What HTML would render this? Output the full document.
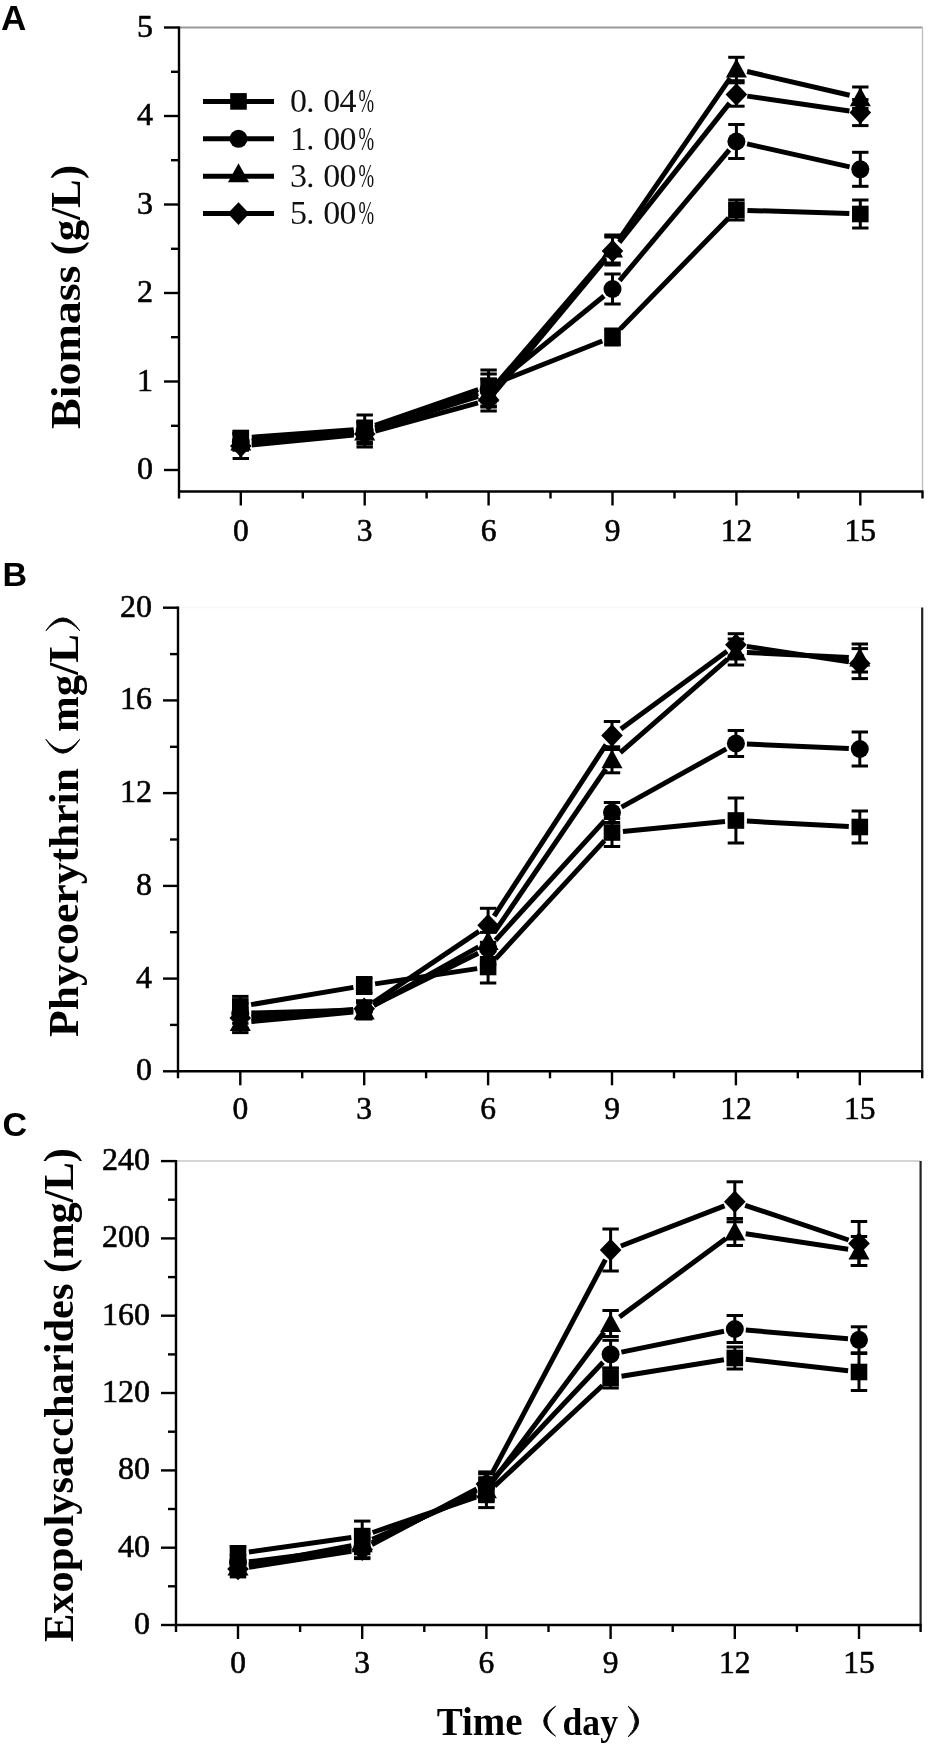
<!DOCTYPE html>
<html><head><meta charset="utf-8"><style>
html,body{margin:0;padding:0;background:#fff;width:936px;height:1758px;overflow:hidden}
svg{display:block;will-change:transform}
</style></head><body>
<svg width="936" height="1758" viewBox="0 0 936 1758">
<rect width="936" height="1758" fill="#fff"/>
<line x1="179" y1="27.5" x2="922.5" y2="27.5" stroke="#999" stroke-width="1.8"/>
<line x1="922.5" y1="27.5" x2="922.5" y2="491.5" stroke="#bbb" stroke-width="1.2"/>
<line x1="179" y1="26.5" x2="179" y2="498.5" stroke="#000" stroke-width="2.4"/>
<line x1="178" y1="491.5" x2="923.5" y2="491.5" stroke="#000" stroke-width="2.6"/>
<line x1="922.5" y1="491.5" x2="922.5" y2="498.5" stroke="#000" stroke-width="2.4"/>
<line x1="240.8" y1="491.5" x2="240.8" y2="505.5" stroke="#000" stroke-width="2.4"/>
<line x1="302.8" y1="491.5" x2="302.8" y2="498.5" stroke="#000" stroke-width="2.4"/>
<line x1="364.7" y1="491.5" x2="364.7" y2="505.5" stroke="#000" stroke-width="2.4"/>
<line x1="426.6" y1="491.5" x2="426.6" y2="498.5" stroke="#000" stroke-width="2.4"/>
<line x1="488.6" y1="491.5" x2="488.6" y2="505.5" stroke="#000" stroke-width="2.4"/>
<line x1="550.5" y1="491.5" x2="550.5" y2="498.5" stroke="#000" stroke-width="2.4"/>
<line x1="612.5" y1="491.5" x2="612.5" y2="505.5" stroke="#000" stroke-width="2.4"/>
<line x1="674.5" y1="491.5" x2="674.5" y2="498.5" stroke="#000" stroke-width="2.4"/>
<line x1="736.4" y1="491.5" x2="736.4" y2="505.5" stroke="#000" stroke-width="2.4"/>
<line x1="798.3" y1="491.5" x2="798.3" y2="498.5" stroke="#000" stroke-width="2.4"/>
<line x1="860.3" y1="491.5" x2="860.3" y2="505.5" stroke="#000" stroke-width="2.4"/>
<line x1="164" y1="470.0" x2="179" y2="470.0" stroke="#000" stroke-width="2.4"/>
<line x1="164" y1="381.5" x2="179" y2="381.5" stroke="#000" stroke-width="2.4"/>
<line x1="164" y1="293.0" x2="179" y2="293.0" stroke="#000" stroke-width="2.4"/>
<line x1="164" y1="204.5" x2="179" y2="204.5" stroke="#000" stroke-width="2.4"/>
<line x1="164" y1="116.0" x2="179" y2="116.0" stroke="#000" stroke-width="2.4"/>
<line x1="164" y1="27.5" x2="179" y2="27.5" stroke="#000" stroke-width="2.4"/>
<line x1="171" y1="425.8" x2="179" y2="425.8" stroke="#000" stroke-width="2.4"/>
<line x1="171" y1="337.2" x2="179" y2="337.2" stroke="#000" stroke-width="2.4"/>
<line x1="171" y1="248.8" x2="179" y2="248.8" stroke="#000" stroke-width="2.4"/>
<line x1="171" y1="160.2" x2="179" y2="160.2" stroke="#000" stroke-width="2.4"/>
<line x1="171" y1="71.8" x2="179" y2="71.8" stroke="#000" stroke-width="2.4"/>
<text x="153" y="479.0" text-anchor="end" font-family='"Liberation Serif", serif' font-size="32" stroke="#000" stroke-width="0.6">0</text>
<text x="153" y="390.5" text-anchor="end" font-family='"Liberation Serif", serif' font-size="32" stroke="#000" stroke-width="0.6">1</text>
<text x="153" y="302.0" text-anchor="end" font-family='"Liberation Serif", serif' font-size="32" stroke="#000" stroke-width="0.6">2</text>
<text x="153" y="213.5" text-anchor="end" font-family='"Liberation Serif", serif' font-size="32" stroke="#000" stroke-width="0.6">3</text>
<text x="153" y="125.0" text-anchor="end" font-family='"Liberation Serif", serif' font-size="32" stroke="#000" stroke-width="0.6">4</text>
<text x="153" y="36.5" text-anchor="end" font-family='"Liberation Serif", serif' font-size="32" stroke="#000" stroke-width="0.6">5</text>
<text x="240.8" y="540.5" text-anchor="middle" font-family='"Liberation Serif", serif' font-size="31.5" stroke="#000" stroke-width="0.6">0</text>
<text x="364.7" y="540.5" text-anchor="middle" font-family='"Liberation Serif", serif' font-size="31.5" stroke="#000" stroke-width="0.6">3</text>
<text x="488.6" y="540.5" text-anchor="middle" font-family='"Liberation Serif", serif' font-size="31.5" stroke="#000" stroke-width="0.6">6</text>
<text x="612.5" y="540.5" text-anchor="middle" font-family='"Liberation Serif", serif' font-size="31.5" stroke="#000" stroke-width="0.6">9</text>
<text x="736.4" y="540.5" text-anchor="middle" font-family='"Liberation Serif", serif' font-size="31.5" stroke="#000" stroke-width="0.6">12</text>
<text x="860.3" y="540.5" text-anchor="middle" font-family='"Liberation Serif", serif' font-size="31.5" stroke="#000" stroke-width="0.6">15</text>
<line x1="251.8" y1="437.2" x2="353.7" y2="429.8" stroke="#000" stroke-width="5"/>
<line x1="375.1" y1="425.4" x2="478.2" y2="389.6" stroke="#000" stroke-width="5"/>
<line x1="498.8" y1="382.0" x2="602.3" y2="341.0" stroke="#000" stroke-width="5"/>
<line x1="620.2" y1="329.1" x2="728.7" y2="217.9" stroke="#000" stroke-width="5"/>
<line x1="747.4" y1="210.4" x2="849.3" y2="213.6" stroke="#000" stroke-width="5"/>
<line x1="251.8" y1="441.0" x2="353.7" y2="432.0" stroke="#000" stroke-width="5"/>
<line x1="375.1" y1="427.5" x2="478.2" y2="393.5" stroke="#000" stroke-width="5"/>
<line x1="497.1" y1="383.0" x2="604.0" y2="296.0" stroke="#000" stroke-width="5"/>
<line x1="619.6" y1="280.6" x2="729.3" y2="149.9" stroke="#000" stroke-width="5"/>
<line x1="747.1" y1="143.9" x2="849.6" y2="166.9" stroke="#000" stroke-width="5"/>
<line x1="251.8" y1="441.1" x2="353.7" y2="432.9" stroke="#000" stroke-width="5"/>
<line x1="375.2" y1="428.7" x2="478.1" y2="396.3" stroke="#000" stroke-width="5"/>
<line x1="495.8" y1="384.7" x2="605.3" y2="257.3" stroke="#000" stroke-width="5"/>
<line x1="618.7" y1="239.9" x2="730.2" y2="78.1" stroke="#000" stroke-width="5"/>
<line x1="747.1" y1="71.5" x2="849.6" y2="95.2" stroke="#000" stroke-width="5"/>
<line x1="251.7" y1="444.9" x2="353.8" y2="435.1" stroke="#000" stroke-width="5"/>
<line x1="375.3" y1="431.1" x2="478.0" y2="402.9" stroke="#000" stroke-width="5"/>
<line x1="495.6" y1="391.5" x2="605.5" y2="259.5" stroke="#000" stroke-width="5"/>
<line x1="619.3" y1="242.4" x2="729.6" y2="103.1" stroke="#000" stroke-width="5"/>
<line x1="747.3" y1="96.1" x2="849.4" y2="111.0" stroke="#000" stroke-width="5"/>
<line x1="240.8" y1="432.0" x2="240.8" y2="444.0" stroke="#000" stroke-width="3"/>
<line x1="232.6" y1="432.0" x2="249.0" y2="432.0" stroke="#000" stroke-width="3"/>
<line x1="232.6" y1="444.0" x2="249.0" y2="444.0" stroke="#000" stroke-width="3"/>
<rect x="232.5" y="429.7" width="16.6" height="16.6"/>
<line x1="364.7" y1="421.0" x2="364.7" y2="437.0" stroke="#000" stroke-width="3"/>
<line x1="356.5" y1="421.0" x2="372.9" y2="421.0" stroke="#000" stroke-width="3"/>
<line x1="356.5" y1="437.0" x2="372.9" y2="437.0" stroke="#000" stroke-width="3"/>
<rect x="356.4" y="420.7" width="16.6" height="16.6"/>
<line x1="488.6" y1="370.0" x2="488.6" y2="402.0" stroke="#000" stroke-width="3"/>
<line x1="480.4" y1="370.0" x2="496.8" y2="370.0" stroke="#000" stroke-width="3"/>
<line x1="480.4" y1="402.0" x2="496.8" y2="402.0" stroke="#000" stroke-width="3"/>
<rect x="480.3" y="377.7" width="16.6" height="16.6"/>
<line x1="612.5" y1="329.0" x2="612.5" y2="345.0" stroke="#000" stroke-width="3"/>
<line x1="604.3" y1="329.0" x2="620.7" y2="329.0" stroke="#000" stroke-width="3"/>
<line x1="604.3" y1="345.0" x2="620.7" y2="345.0" stroke="#000" stroke-width="3"/>
<rect x="604.2" y="328.7" width="16.6" height="16.6"/>
<line x1="736.4" y1="200.0" x2="736.4" y2="220.0" stroke="#000" stroke-width="3"/>
<line x1="728.2" y1="200.0" x2="744.6" y2="200.0" stroke="#000" stroke-width="3"/>
<line x1="728.2" y1="220.0" x2="744.6" y2="220.0" stroke="#000" stroke-width="3"/>
<rect x="728.1" y="201.7" width="16.6" height="16.6"/>
<line x1="860.3" y1="200.0" x2="860.3" y2="228.0" stroke="#000" stroke-width="3"/>
<line x1="852.1" y1="200.0" x2="868.5" y2="200.0" stroke="#000" stroke-width="3"/>
<line x1="852.1" y1="228.0" x2="868.5" y2="228.0" stroke="#000" stroke-width="3"/>
<rect x="852.0" y="205.7" width="16.6" height="16.6"/>
<line x1="240.8" y1="434.0" x2="240.8" y2="450.0" stroke="#000" stroke-width="3"/>
<line x1="232.6" y1="434.0" x2="249.0" y2="434.0" stroke="#000" stroke-width="3"/>
<line x1="232.6" y1="450.0" x2="249.0" y2="450.0" stroke="#000" stroke-width="3"/>
<circle cx="240.8" cy="442.0" r="9.0"/>
<line x1="364.7" y1="415.0" x2="364.7" y2="447.0" stroke="#000" stroke-width="3"/>
<line x1="356.5" y1="415.0" x2="372.9" y2="415.0" stroke="#000" stroke-width="3"/>
<line x1="356.5" y1="447.0" x2="372.9" y2="447.0" stroke="#000" stroke-width="3"/>
<circle cx="364.7" cy="431.0" r="9.0"/>
<line x1="488.6" y1="374.0" x2="488.6" y2="406.0" stroke="#000" stroke-width="3"/>
<line x1="480.4" y1="374.0" x2="496.8" y2="374.0" stroke="#000" stroke-width="3"/>
<line x1="480.4" y1="406.0" x2="496.8" y2="406.0" stroke="#000" stroke-width="3"/>
<circle cx="488.6" cy="390.0" r="9.0"/>
<line x1="612.5" y1="274.0" x2="612.5" y2="304.0" stroke="#000" stroke-width="3"/>
<line x1="604.3" y1="274.0" x2="620.7" y2="274.0" stroke="#000" stroke-width="3"/>
<line x1="604.3" y1="304.0" x2="620.7" y2="304.0" stroke="#000" stroke-width="3"/>
<circle cx="612.5" cy="289.0" r="9.0"/>
<line x1="736.4" y1="124.5" x2="736.4" y2="158.5" stroke="#000" stroke-width="3"/>
<line x1="728.2" y1="124.5" x2="744.6" y2="124.5" stroke="#000" stroke-width="3"/>
<line x1="728.2" y1="158.5" x2="744.6" y2="158.5" stroke="#000" stroke-width="3"/>
<circle cx="736.4" cy="141.5" r="9.0"/>
<line x1="860.3" y1="152.3" x2="860.3" y2="186.3" stroke="#000" stroke-width="3"/>
<line x1="852.1" y1="152.3" x2="868.5" y2="152.3" stroke="#000" stroke-width="3"/>
<line x1="852.1" y1="186.3" x2="868.5" y2="186.3" stroke="#000" stroke-width="3"/>
<circle cx="860.3" cy="169.3" r="9.0"/>
<line x1="240.8" y1="434.0" x2="240.8" y2="450.0" stroke="#000" stroke-width="3"/>
<line x1="232.6" y1="434.0" x2="249.0" y2="434.0" stroke="#000" stroke-width="3"/>
<line x1="232.6" y1="450.0" x2="249.0" y2="450.0" stroke="#000" stroke-width="3"/>
<path d="M240.8,431.5 L251.3,450.5 L230.3,450.5 Z"/>
<line x1="364.7" y1="422.0" x2="364.7" y2="442.0" stroke="#000" stroke-width="3"/>
<line x1="356.5" y1="422.0" x2="372.9" y2="422.0" stroke="#000" stroke-width="3"/>
<line x1="356.5" y1="442.0" x2="372.9" y2="442.0" stroke="#000" stroke-width="3"/>
<path d="M364.7,421.5 L375.2,440.5 L354.2,440.5 Z"/>
<line x1="488.6" y1="379.0" x2="488.6" y2="407.0" stroke="#000" stroke-width="3"/>
<line x1="480.4" y1="379.0" x2="496.8" y2="379.0" stroke="#000" stroke-width="3"/>
<line x1="480.4" y1="407.0" x2="496.8" y2="407.0" stroke="#000" stroke-width="3"/>
<path d="M488.6,382.5 L499.1,401.5 L478.1,401.5 Z"/>
<line x1="612.5" y1="235.0" x2="612.5" y2="263.0" stroke="#000" stroke-width="3"/>
<line x1="604.3" y1="235.0" x2="620.7" y2="235.0" stroke="#000" stroke-width="3"/>
<line x1="604.3" y1="263.0" x2="620.7" y2="263.0" stroke="#000" stroke-width="3"/>
<path d="M612.5,238.5 L623.0,257.5 L602.0,257.5 Z"/>
<line x1="736.4" y1="57.3" x2="736.4" y2="80.7" stroke="#000" stroke-width="3"/>
<line x1="728.2" y1="57.3" x2="744.6" y2="57.3" stroke="#000" stroke-width="3"/>
<line x1="728.2" y1="80.7" x2="744.6" y2="80.7" stroke="#000" stroke-width="3"/>
<path d="M736.4,58.5 L746.9,77.5 L725.9,77.5 Z"/>
<line x1="860.3" y1="87.0" x2="860.3" y2="108.4" stroke="#000" stroke-width="3"/>
<line x1="852.1" y1="87.0" x2="868.5" y2="87.0" stroke="#000" stroke-width="3"/>
<line x1="852.1" y1="108.4" x2="868.5" y2="108.4" stroke="#000" stroke-width="3"/>
<path d="M860.3,87.2 L870.8,106.2 L849.8,106.2 Z"/>
<line x1="240.8" y1="433.5" x2="240.8" y2="458.5" stroke="#000" stroke-width="3"/>
<line x1="232.6" y1="433.5" x2="249.0" y2="433.5" stroke="#000" stroke-width="3"/>
<line x1="232.6" y1="458.5" x2="249.0" y2="458.5" stroke="#000" stroke-width="3"/>
<path d="M240.8,434.7 L251.6,446.0 L240.8,457.3 L230.0,446.0 Z"/>
<line x1="364.7" y1="424.0" x2="364.7" y2="444.0" stroke="#000" stroke-width="3"/>
<line x1="356.5" y1="424.0" x2="372.9" y2="424.0" stroke="#000" stroke-width="3"/>
<line x1="356.5" y1="444.0" x2="372.9" y2="444.0" stroke="#000" stroke-width="3"/>
<path d="M364.7,422.7 L375.5,434.0 L364.7,445.3 L353.9,434.0 Z"/>
<line x1="488.6" y1="389.0" x2="488.6" y2="411.0" stroke="#000" stroke-width="3"/>
<line x1="480.4" y1="389.0" x2="496.8" y2="389.0" stroke="#000" stroke-width="3"/>
<line x1="480.4" y1="411.0" x2="496.8" y2="411.0" stroke="#000" stroke-width="3"/>
<path d="M488.6,388.7 L499.4,400.0 L488.6,411.3 L477.8,400.0 Z"/>
<line x1="612.5" y1="237.0" x2="612.5" y2="265.0" stroke="#000" stroke-width="3"/>
<line x1="604.3" y1="237.0" x2="620.7" y2="237.0" stroke="#000" stroke-width="3"/>
<line x1="604.3" y1="265.0" x2="620.7" y2="265.0" stroke="#000" stroke-width="3"/>
<path d="M612.5,239.7 L623.3,251.0 L612.5,262.3 L601.7,251.0 Z"/>
<line x1="736.4" y1="82.8" x2="736.4" y2="106.2" stroke="#000" stroke-width="3"/>
<line x1="728.2" y1="82.8" x2="744.6" y2="82.8" stroke="#000" stroke-width="3"/>
<line x1="728.2" y1="106.2" x2="744.6" y2="106.2" stroke="#000" stroke-width="3"/>
<path d="M736.4,83.2 L747.2,94.5 L736.4,105.8 L725.6,94.5 Z"/>
<line x1="860.3" y1="99.6" x2="860.3" y2="125.6" stroke="#000" stroke-width="3"/>
<line x1="852.1" y1="99.6" x2="868.5" y2="99.6" stroke="#000" stroke-width="3"/>
<line x1="852.1" y1="125.6" x2="868.5" y2="125.6" stroke="#000" stroke-width="3"/>
<path d="M860.3,101.3 L871.1,112.6 L860.3,123.9 L849.5,112.6 Z"/>
<line x1="203" y1="101.4" x2="274" y2="101.4" stroke="#000" stroke-width="5"/>
<rect x="230.2" y="93.1" width="16.6" height="16.6"/>
<text x="298.5" y="112.2" text-anchor="middle" font-family='"Liberation Serif", serif' font-size="34" fill="#111">0</text>
<circle cx="310.3" cy="110.2" r="1.9" fill="#111"/>
<text x="331.8" y="112.2" text-anchor="middle" font-family='"Liberation Serif", serif' font-size="34" fill="#111">0</text>
<text x="348.0" y="112.2" text-anchor="middle" font-family='"Liberation Serif", serif' font-size="34" fill="#111">4</text>
<text x="358.5" y="112.2" font-family='"Liberation Serif", serif' font-size="34" textLength="15.6" lengthAdjust="spacingAndGlyphs" fill="#111">%</text>
<line x1="203" y1="138.8" x2="274" y2="138.8" stroke="#000" stroke-width="5"/>
<circle cx="238.5" cy="138.8" r="9.0"/>
<text x="298.5" y="149.7" text-anchor="middle" font-family='"Liberation Serif", serif' font-size="34" fill="#111">1</text>
<circle cx="310.3" cy="147.7" r="1.9" fill="#111"/>
<text x="331.8" y="149.7" text-anchor="middle" font-family='"Liberation Serif", serif' font-size="34" fill="#111">0</text>
<text x="348.0" y="149.7" text-anchor="middle" font-family='"Liberation Serif", serif' font-size="34" fill="#111">0</text>
<text x="358.5" y="149.7" font-family='"Liberation Serif", serif' font-size="34" textLength="15.6" lengthAdjust="spacingAndGlyphs" fill="#111">%</text>
<line x1="203" y1="176.2" x2="274" y2="176.2" stroke="#000" stroke-width="5"/>
<path d="M238.5,163.2 L249.0,182.2 L228.0,182.2 Z"/>
<text x="298.5" y="187.4" text-anchor="middle" font-family='"Liberation Serif", serif' font-size="34" fill="#111">3</text>
<circle cx="310.3" cy="185.4" r="1.9" fill="#111"/>
<text x="331.8" y="187.4" text-anchor="middle" font-family='"Liberation Serif", serif' font-size="34" fill="#111">0</text>
<text x="348.0" y="187.4" text-anchor="middle" font-family='"Liberation Serif", serif' font-size="34" fill="#111">0</text>
<text x="358.5" y="187.4" font-family='"Liberation Serif", serif' font-size="34" textLength="15.6" lengthAdjust="spacingAndGlyphs" fill="#111">%</text>
<line x1="203" y1="213.6" x2="274" y2="213.6" stroke="#000" stroke-width="5"/>
<path d="M238.5,202.3 L249.3,213.6 L238.5,224.9 L227.7,213.6 Z"/>
<text x="298.5" y="224.0" text-anchor="middle" font-family='"Liberation Serif", serif' font-size="34" fill="#111">5</text>
<circle cx="310.3" cy="222.0" r="1.9" fill="#111"/>
<text x="331.8" y="224.0" text-anchor="middle" font-family='"Liberation Serif", serif' font-size="34" fill="#111">0</text>
<text x="348.0" y="224.0" text-anchor="middle" font-family='"Liberation Serif", serif' font-size="34" fill="#111">0</text>
<text x="358.5" y="224.0" font-family='"Liberation Serif", serif' font-size="34" textLength="15.6" lengthAdjust="spacingAndGlyphs" fill="#111">%</text>
<line x1="178" y1="607.5" x2="922.2" y2="607.5" stroke="#f7f7f7" stroke-width="1.5"/>
<line x1="922.2" y1="607.5" x2="922.2" y2="1071.3" stroke="#222" stroke-width="2.2"/>
<line x1="178" y1="606.5" x2="178" y2="1078.3" stroke="#000" stroke-width="2.4"/>
<line x1="177" y1="1071.3" x2="923.2" y2="1071.3" stroke="#000" stroke-width="2.6"/>
<line x1="922.2" y1="1071.3" x2="922.2" y2="1078.3" stroke="#000" stroke-width="2.4"/>
<line x1="240.3" y1="1071.3" x2="240.3" y2="1085.3" stroke="#000" stroke-width="2.4"/>
<line x1="302.2" y1="1071.3" x2="302.2" y2="1078.3" stroke="#000" stroke-width="2.4"/>
<line x1="364.2" y1="1071.3" x2="364.2" y2="1085.3" stroke="#000" stroke-width="2.4"/>
<line x1="426.1" y1="1071.3" x2="426.1" y2="1078.3" stroke="#000" stroke-width="2.4"/>
<line x1="488.1" y1="1071.3" x2="488.1" y2="1085.3" stroke="#000" stroke-width="2.4"/>
<line x1="550.0" y1="1071.3" x2="550.0" y2="1078.3" stroke="#000" stroke-width="2.4"/>
<line x1="612.0" y1="1071.3" x2="612.0" y2="1085.3" stroke="#000" stroke-width="2.4"/>
<line x1="674.0" y1="1071.3" x2="674.0" y2="1078.3" stroke="#000" stroke-width="2.4"/>
<line x1="735.9" y1="1071.3" x2="735.9" y2="1085.3" stroke="#000" stroke-width="2.4"/>
<line x1="797.8" y1="1071.3" x2="797.8" y2="1078.3" stroke="#000" stroke-width="2.4"/>
<line x1="859.8" y1="1071.3" x2="859.8" y2="1085.3" stroke="#000" stroke-width="2.4"/>
<line x1="163" y1="1071.3" x2="178" y2="1071.3" stroke="#000" stroke-width="2.4"/>
<line x1="163" y1="978.6" x2="178" y2="978.6" stroke="#000" stroke-width="2.4"/>
<line x1="163" y1="885.9" x2="178" y2="885.9" stroke="#000" stroke-width="2.4"/>
<line x1="163" y1="793.1" x2="178" y2="793.1" stroke="#000" stroke-width="2.4"/>
<line x1="163" y1="700.4" x2="178" y2="700.4" stroke="#000" stroke-width="2.4"/>
<line x1="163" y1="607.7" x2="178" y2="607.7" stroke="#000" stroke-width="2.4"/>
<line x1="170" y1="1024.9" x2="178" y2="1024.9" stroke="#000" stroke-width="2.4"/>
<line x1="170" y1="932.2" x2="178" y2="932.2" stroke="#000" stroke-width="2.4"/>
<line x1="170" y1="839.5" x2="178" y2="839.5" stroke="#000" stroke-width="2.4"/>
<line x1="170" y1="746.8" x2="178" y2="746.8" stroke="#000" stroke-width="2.4"/>
<line x1="170" y1="654.1" x2="178" y2="654.1" stroke="#000" stroke-width="2.4"/>
<text x="152" y="1080.3" text-anchor="end" font-family='"Liberation Serif", serif' font-size="32" stroke="#000" stroke-width="0.6">0</text>
<text x="152" y="987.6" text-anchor="end" font-family='"Liberation Serif", serif' font-size="32" stroke="#000" stroke-width="0.6">4</text>
<text x="152" y="894.9" text-anchor="end" font-family='"Liberation Serif", serif' font-size="32" stroke="#000" stroke-width="0.6">8</text>
<text x="152" y="802.1" text-anchor="end" font-family='"Liberation Serif", serif' font-size="32" stroke="#000" stroke-width="0.6">12</text>
<text x="152" y="709.4" text-anchor="end" font-family='"Liberation Serif", serif' font-size="32" stroke="#000" stroke-width="0.6">16</text>
<text x="152" y="616.7" text-anchor="end" font-family='"Liberation Serif", serif' font-size="32" stroke="#000" stroke-width="0.6">20</text>
<text x="240.3" y="1118.7" text-anchor="middle" font-family='"Liberation Serif", serif' font-size="31.5" stroke="#000" stroke-width="0.6">0</text>
<text x="364.2" y="1118.7" text-anchor="middle" font-family='"Liberation Serif", serif' font-size="31.5" stroke="#000" stroke-width="0.6">3</text>
<text x="488.1" y="1118.7" text-anchor="middle" font-family='"Liberation Serif", serif' font-size="31.5" stroke="#000" stroke-width="0.6">6</text>
<text x="612.0" y="1118.7" text-anchor="middle" font-family='"Liberation Serif", serif' font-size="31.5" stroke="#000" stroke-width="0.6">9</text>
<text x="735.9" y="1118.7" text-anchor="middle" font-family='"Liberation Serif", serif' font-size="31.5" stroke="#000" stroke-width="0.6">12</text>
<text x="859.8" y="1118.7" text-anchor="middle" font-family='"Liberation Serif", serif' font-size="31.5" stroke="#000" stroke-width="0.6">15</text>
<line x1="251.1" y1="1004.6" x2="353.4" y2="987.4" stroke="#000" stroke-width="5"/>
<line x1="375.1" y1="983.9" x2="477.2" y2="968.6" stroke="#000" stroke-width="5"/>
<line x1="495.6" y1="958.9" x2="604.5" y2="840.6" stroke="#000" stroke-width="5"/>
<line x1="622.9" y1="831.4" x2="725.0" y2="821.6" stroke="#000" stroke-width="5"/>
<line x1="746.9" y1="821.1" x2="848.8" y2="826.4" stroke="#000" stroke-width="5"/>
<line x1="251.3" y1="1013.0" x2="353.2" y2="1010.2" stroke="#000" stroke-width="5"/>
<line x1="374.1" y1="1005.0" x2="478.2" y2="953.3" stroke="#000" stroke-width="5"/>
<line x1="495.5" y1="940.3" x2="604.6" y2="820.6" stroke="#000" stroke-width="5"/>
<line x1="621.6" y1="807.1" x2="726.3" y2="748.9" stroke="#000" stroke-width="5"/>
<line x1="746.9" y1="744.0" x2="848.8" y2="748.5" stroke="#000" stroke-width="5"/>
<line x1="251.3" y1="1021.6" x2="353.2" y2="1012.1" stroke="#000" stroke-width="5"/>
<line x1="373.8" y1="1005.6" x2="478.5" y2="946.9" stroke="#000" stroke-width="5"/>
<line x1="494.3" y1="932.4" x2="605.8" y2="768.9" stroke="#000" stroke-width="5"/>
<line x1="620.3" y1="752.6" x2="727.6" y2="659.2" stroke="#000" stroke-width="5"/>
<line x1="746.9" y1="652.5" x2="848.8" y2="657.5" stroke="#000" stroke-width="5"/>
<line x1="251.3" y1="1017.2" x2="353.2" y2="1009.5" stroke="#000" stroke-width="5"/>
<line x1="373.3" y1="1002.6" x2="479.0" y2="931.4" stroke="#000" stroke-width="5"/>
<line x1="494.1" y1="916.1" x2="606.0" y2="744.7" stroke="#000" stroke-width="5"/>
<line x1="620.9" y1="729.0" x2="727.0" y2="651.2" stroke="#000" stroke-width="5"/>
<line x1="746.8" y1="646.4" x2="848.9" y2="661.9" stroke="#000" stroke-width="5"/>
<line x1="240.3" y1="996.4" x2="240.3" y2="1016.4" stroke="#000" stroke-width="3"/>
<line x1="232.1" y1="996.4" x2="248.5" y2="996.4" stroke="#000" stroke-width="3"/>
<line x1="232.1" y1="1016.4" x2="248.5" y2="1016.4" stroke="#000" stroke-width="3"/>
<rect x="232.0" y="998.1" width="16.6" height="16.6"/>
<line x1="364.2" y1="977.5" x2="364.2" y2="993.5" stroke="#000" stroke-width="3"/>
<line x1="356.0" y1="977.5" x2="372.4" y2="977.5" stroke="#000" stroke-width="3"/>
<line x1="356.0" y1="993.5" x2="372.4" y2="993.5" stroke="#000" stroke-width="3"/>
<rect x="355.9" y="977.2" width="16.6" height="16.6"/>
<line x1="488.1" y1="951.0" x2="488.1" y2="983.0" stroke="#000" stroke-width="3"/>
<line x1="479.9" y1="951.0" x2="496.3" y2="951.0" stroke="#000" stroke-width="3"/>
<line x1="479.9" y1="983.0" x2="496.3" y2="983.0" stroke="#000" stroke-width="3"/>
<rect x="479.8" y="958.7" width="16.6" height="16.6"/>
<line x1="612.0" y1="818.5" x2="612.0" y2="846.5" stroke="#000" stroke-width="3"/>
<line x1="603.8" y1="818.5" x2="620.2" y2="818.5" stroke="#000" stroke-width="3"/>
<line x1="603.8" y1="846.5" x2="620.2" y2="846.5" stroke="#000" stroke-width="3"/>
<rect x="603.7" y="824.2" width="16.6" height="16.6"/>
<line x1="735.9" y1="798.0" x2="735.9" y2="843.0" stroke="#000" stroke-width="3"/>
<line x1="727.7" y1="798.0" x2="744.1" y2="798.0" stroke="#000" stroke-width="3"/>
<line x1="727.7" y1="843.0" x2="744.1" y2="843.0" stroke="#000" stroke-width="3"/>
<rect x="727.6" y="812.2" width="16.6" height="16.6"/>
<line x1="859.8" y1="811.0" x2="859.8" y2="843.0" stroke="#000" stroke-width="3"/>
<line x1="851.6" y1="811.0" x2="868.0" y2="811.0" stroke="#000" stroke-width="3"/>
<line x1="851.6" y1="843.0" x2="868.0" y2="843.0" stroke="#000" stroke-width="3"/>
<rect x="851.5" y="818.7" width="16.6" height="16.6"/>
<line x1="240.3" y1="1003.3" x2="240.3" y2="1023.3" stroke="#000" stroke-width="3"/>
<line x1="232.1" y1="1003.3" x2="248.5" y2="1003.3" stroke="#000" stroke-width="3"/>
<line x1="232.1" y1="1023.3" x2="248.5" y2="1023.3" stroke="#000" stroke-width="3"/>
<circle cx="240.3" cy="1013.3" r="9.0"/>
<line x1="364.2" y1="1001.9" x2="364.2" y2="1017.9" stroke="#000" stroke-width="3"/>
<line x1="356.0" y1="1001.9" x2="372.4" y2="1001.9" stroke="#000" stroke-width="3"/>
<line x1="356.0" y1="1017.9" x2="372.4" y2="1017.9" stroke="#000" stroke-width="3"/>
<circle cx="364.2" cy="1009.9" r="9.0"/>
<line x1="488.1" y1="932.4" x2="488.1" y2="964.4" stroke="#000" stroke-width="3"/>
<line x1="479.9" y1="932.4" x2="496.3" y2="932.4" stroke="#000" stroke-width="3"/>
<line x1="479.9" y1="964.4" x2="496.3" y2="964.4" stroke="#000" stroke-width="3"/>
<circle cx="488.1" cy="948.4" r="9.0"/>
<line x1="612.0" y1="802.5" x2="612.0" y2="822.5" stroke="#000" stroke-width="3"/>
<line x1="603.8" y1="802.5" x2="620.2" y2="802.5" stroke="#000" stroke-width="3"/>
<line x1="603.8" y1="822.5" x2="620.2" y2="822.5" stroke="#000" stroke-width="3"/>
<circle cx="612.0" cy="812.5" r="9.0"/>
<line x1="735.9" y1="730.5" x2="735.9" y2="756.5" stroke="#000" stroke-width="3"/>
<line x1="727.7" y1="730.5" x2="744.1" y2="730.5" stroke="#000" stroke-width="3"/>
<line x1="727.7" y1="756.5" x2="744.1" y2="756.5" stroke="#000" stroke-width="3"/>
<circle cx="735.9" cy="743.5" r="9.0"/>
<line x1="859.8" y1="732.0" x2="859.8" y2="766.0" stroke="#000" stroke-width="3"/>
<line x1="851.6" y1="732.0" x2="868.0" y2="732.0" stroke="#000" stroke-width="3"/>
<line x1="851.6" y1="766.0" x2="868.0" y2="766.0" stroke="#000" stroke-width="3"/>
<circle cx="859.8" cy="749.0" r="9.0"/>
<line x1="240.3" y1="1012.6" x2="240.3" y2="1032.6" stroke="#000" stroke-width="3"/>
<line x1="232.1" y1="1012.6" x2="248.5" y2="1012.6" stroke="#000" stroke-width="3"/>
<line x1="232.1" y1="1032.6" x2="248.5" y2="1032.6" stroke="#000" stroke-width="3"/>
<path d="M240.3,1012.1 L250.8,1031.1 L229.8,1031.1 Z"/>
<line x1="364.2" y1="1003.0" x2="364.2" y2="1019.0" stroke="#000" stroke-width="3"/>
<line x1="356.0" y1="1003.0" x2="372.4" y2="1003.0" stroke="#000" stroke-width="3"/>
<line x1="356.0" y1="1019.0" x2="372.4" y2="1019.0" stroke="#000" stroke-width="3"/>
<path d="M364.2,1000.5 L374.7,1019.5 L353.7,1019.5 Z"/>
<line x1="488.1" y1="925.5" x2="488.1" y2="957.5" stroke="#000" stroke-width="3"/>
<line x1="479.9" y1="925.5" x2="496.3" y2="925.5" stroke="#000" stroke-width="3"/>
<line x1="479.9" y1="957.5" x2="496.3" y2="957.5" stroke="#000" stroke-width="3"/>
<path d="M488.1,931.0 L498.6,950.0 L477.6,950.0 Z"/>
<line x1="612.0" y1="746.8" x2="612.0" y2="772.8" stroke="#000" stroke-width="3"/>
<line x1="603.8" y1="746.8" x2="620.2" y2="746.8" stroke="#000" stroke-width="3"/>
<line x1="603.8" y1="772.8" x2="620.2" y2="772.8" stroke="#000" stroke-width="3"/>
<path d="M612.0,749.3 L622.5,768.3 L601.5,768.3 Z"/>
<line x1="735.9" y1="639.0" x2="735.9" y2="665.0" stroke="#000" stroke-width="3"/>
<line x1="727.7" y1="639.0" x2="744.1" y2="639.0" stroke="#000" stroke-width="3"/>
<line x1="727.7" y1="665.0" x2="744.1" y2="665.0" stroke="#000" stroke-width="3"/>
<path d="M735.9,641.5 L746.4,660.5 L725.4,660.5 Z"/>
<line x1="859.8" y1="644.0" x2="859.8" y2="672.0" stroke="#000" stroke-width="3"/>
<line x1="851.6" y1="644.0" x2="868.0" y2="644.0" stroke="#000" stroke-width="3"/>
<line x1="851.6" y1="672.0" x2="868.0" y2="672.0" stroke="#000" stroke-width="3"/>
<path d="M859.8,647.5 L870.3,666.5 L849.3,666.5 Z"/>
<line x1="240.3" y1="1008.0" x2="240.3" y2="1028.0" stroke="#000" stroke-width="3"/>
<line x1="232.1" y1="1008.0" x2="248.5" y2="1008.0" stroke="#000" stroke-width="3"/>
<line x1="232.1" y1="1028.0" x2="248.5" y2="1028.0" stroke="#000" stroke-width="3"/>
<path d="M240.3,1006.7 L251.1,1018.0 L240.3,1029.3 L229.5,1018.0 Z"/>
<line x1="364.2" y1="1000.7" x2="364.2" y2="1016.7" stroke="#000" stroke-width="3"/>
<line x1="356.0" y1="1000.7" x2="372.4" y2="1000.7" stroke="#000" stroke-width="3"/>
<line x1="356.0" y1="1016.7" x2="372.4" y2="1016.7" stroke="#000" stroke-width="3"/>
<path d="M364.2,997.4 L375.0,1008.7 L364.2,1020.0 L353.4,1008.7 Z"/>
<line x1="488.1" y1="908.3" x2="488.1" y2="942.3" stroke="#000" stroke-width="3"/>
<line x1="479.9" y1="908.3" x2="496.3" y2="908.3" stroke="#000" stroke-width="3"/>
<line x1="479.9" y1="942.3" x2="496.3" y2="942.3" stroke="#000" stroke-width="3"/>
<path d="M488.1,914.0 L498.9,925.3 L488.1,936.6 L477.3,925.3 Z"/>
<line x1="612.0" y1="721.5" x2="612.0" y2="749.5" stroke="#000" stroke-width="3"/>
<line x1="603.8" y1="721.5" x2="620.2" y2="721.5" stroke="#000" stroke-width="3"/>
<line x1="603.8" y1="749.5" x2="620.2" y2="749.5" stroke="#000" stroke-width="3"/>
<path d="M612.0,724.2 L622.8,735.5 L612.0,746.8 L601.2,735.5 Z"/>
<line x1="735.9" y1="633.7" x2="735.9" y2="655.7" stroke="#000" stroke-width="3"/>
<line x1="727.7" y1="633.7" x2="744.1" y2="633.7" stroke="#000" stroke-width="3"/>
<line x1="727.7" y1="655.7" x2="744.1" y2="655.7" stroke="#000" stroke-width="3"/>
<path d="M735.9,633.4 L746.7,644.7 L735.9,656.0 L725.1,644.7 Z"/>
<line x1="859.8" y1="648.6" x2="859.8" y2="678.6" stroke="#000" stroke-width="3"/>
<line x1="851.6" y1="648.6" x2="868.0" y2="648.6" stroke="#000" stroke-width="3"/>
<line x1="851.6" y1="678.6" x2="868.0" y2="678.6" stroke="#000" stroke-width="3"/>
<path d="M859.8,652.3 L870.6,663.6 L859.8,674.9 L849.0,663.6 Z"/>
<line x1="176" y1="1161" x2="920.6" y2="1161" stroke="#c8c8c8" stroke-width="1.5"/>
<line x1="920.6" y1="1161" x2="920.6" y2="1625" stroke="#222" stroke-width="2.2"/>
<line x1="176" y1="1160" x2="176" y2="1632" stroke="#000" stroke-width="2.4"/>
<line x1="175" y1="1625" x2="921.6" y2="1625" stroke="#000" stroke-width="2.6"/>
<line x1="920.6" y1="1625" x2="920.6" y2="1632" stroke="#000" stroke-width="2.4"/>
<line x1="238.0" y1="1625" x2="238.0" y2="1639" stroke="#000" stroke-width="2.4"/>
<line x1="300.1" y1="1625" x2="300.1" y2="1632" stroke="#000" stroke-width="2.4"/>
<line x1="362.2" y1="1625" x2="362.2" y2="1639" stroke="#000" stroke-width="2.4"/>
<line x1="424.3" y1="1625" x2="424.3" y2="1632" stroke="#000" stroke-width="2.4"/>
<line x1="486.4" y1="1625" x2="486.4" y2="1639" stroke="#000" stroke-width="2.4"/>
<line x1="548.5" y1="1625" x2="548.5" y2="1632" stroke="#000" stroke-width="2.4"/>
<line x1="610.6" y1="1625" x2="610.6" y2="1639" stroke="#000" stroke-width="2.4"/>
<line x1="672.7" y1="1625" x2="672.7" y2="1632" stroke="#000" stroke-width="2.4"/>
<line x1="734.8" y1="1625" x2="734.8" y2="1639" stroke="#000" stroke-width="2.4"/>
<line x1="796.9" y1="1625" x2="796.9" y2="1632" stroke="#000" stroke-width="2.4"/>
<line x1="859.0" y1="1625" x2="859.0" y2="1639" stroke="#000" stroke-width="2.4"/>
<line x1="161" y1="1625.0" x2="176" y2="1625.0" stroke="#000" stroke-width="2.4"/>
<line x1="161" y1="1547.7" x2="176" y2="1547.7" stroke="#000" stroke-width="2.4"/>
<line x1="161" y1="1470.4" x2="176" y2="1470.4" stroke="#000" stroke-width="2.4"/>
<line x1="161" y1="1393.0" x2="176" y2="1393.0" stroke="#000" stroke-width="2.4"/>
<line x1="161" y1="1315.7" x2="176" y2="1315.7" stroke="#000" stroke-width="2.4"/>
<line x1="161" y1="1238.4" x2="176" y2="1238.4" stroke="#000" stroke-width="2.4"/>
<line x1="161" y1="1161.1" x2="176" y2="1161.1" stroke="#000" stroke-width="2.4"/>
<line x1="168" y1="1586.3" x2="176" y2="1586.3" stroke="#000" stroke-width="2.4"/>
<line x1="168" y1="1509.0" x2="176" y2="1509.0" stroke="#000" stroke-width="2.4"/>
<line x1="168" y1="1431.7" x2="176" y2="1431.7" stroke="#000" stroke-width="2.4"/>
<line x1="168" y1="1354.4" x2="176" y2="1354.4" stroke="#000" stroke-width="2.4"/>
<line x1="168" y1="1277.1" x2="176" y2="1277.1" stroke="#000" stroke-width="2.4"/>
<line x1="168" y1="1199.7" x2="176" y2="1199.7" stroke="#000" stroke-width="2.4"/>
<text x="150" y="1634.0" text-anchor="end" font-family='"Liberation Serif", serif' font-size="32" stroke="#000" stroke-width="0.6">0</text>
<text x="150" y="1556.7" text-anchor="end" font-family='"Liberation Serif", serif' font-size="32" stroke="#000" stroke-width="0.6">40</text>
<text x="150" y="1479.4" text-anchor="end" font-family='"Liberation Serif", serif' font-size="32" stroke="#000" stroke-width="0.6">80</text>
<text x="150" y="1402.0" text-anchor="end" font-family='"Liberation Serif", serif' font-size="32" stroke="#000" stroke-width="0.6">120</text>
<text x="150" y="1324.7" text-anchor="end" font-family='"Liberation Serif", serif' font-size="32" stroke="#000" stroke-width="0.6">160</text>
<text x="150" y="1247.4" text-anchor="end" font-family='"Liberation Serif", serif' font-size="32" stroke="#000" stroke-width="0.6">200</text>
<text x="150" y="1170.1" text-anchor="end" font-family='"Liberation Serif", serif' font-size="32" stroke="#000" stroke-width="0.6">240</text>
<text x="238.0" y="1672.5" text-anchor="middle" font-family='"Liberation Serif", serif' font-size="31.5" stroke="#000" stroke-width="0.6">0</text>
<text x="362.2" y="1672.5" text-anchor="middle" font-family='"Liberation Serif", serif' font-size="31.5" stroke="#000" stroke-width="0.6">3</text>
<text x="486.4" y="1672.5" text-anchor="middle" font-family='"Liberation Serif", serif' font-size="31.5" stroke="#000" stroke-width="0.6">6</text>
<text x="610.6" y="1672.5" text-anchor="middle" font-family='"Liberation Serif", serif' font-size="31.5" stroke="#000" stroke-width="0.6">9</text>
<text x="734.8" y="1672.5" text-anchor="middle" font-family='"Liberation Serif", serif' font-size="31.5" stroke="#000" stroke-width="0.6">12</text>
<text x="859.0" y="1672.5" text-anchor="middle" font-family='"Liberation Serif", serif' font-size="31.5" stroke="#000" stroke-width="0.6">15</text>
<line x1="248.9" y1="1552.0" x2="351.3" y2="1537.6" stroke="#000" stroke-width="5"/>
<line x1="372.6" y1="1532.5" x2="476.0" y2="1497.1" stroke="#000" stroke-width="5"/>
<line x1="494.5" y1="1486.1" x2="602.5" y2="1385.5" stroke="#000" stroke-width="5"/>
<line x1="621.5" y1="1376.3" x2="723.9" y2="1359.7" stroke="#000" stroke-width="5"/>
<line x1="745.7" y1="1359.2" x2="848.1" y2="1370.8" stroke="#000" stroke-width="5"/>
<line x1="248.9" y1="1561.8" x2="351.3" y2="1549.0" stroke="#000" stroke-width="5"/>
<line x1="372.0" y1="1542.8" x2="476.6" y2="1490.7" stroke="#000" stroke-width="5"/>
<line x1="494.0" y1="1477.8" x2="603.0" y2="1362.3" stroke="#000" stroke-width="5"/>
<line x1="621.4" y1="1352.1" x2="724.0" y2="1331.2" stroke="#000" stroke-width="5"/>
<line x1="745.8" y1="1330.0" x2="848.0" y2="1338.8" stroke="#000" stroke-width="5"/>
<line x1="248.8" y1="1565.0" x2="351.4" y2="1545.8" stroke="#000" stroke-width="5"/>
<line x1="372.3" y1="1539.4" x2="476.3" y2="1494.1" stroke="#000" stroke-width="5"/>
<line x1="493.0" y1="1480.9" x2="604.0" y2="1332.3" stroke="#000" stroke-width="5"/>
<line x1="619.5" y1="1317.0" x2="725.9" y2="1238.5" stroke="#000" stroke-width="5"/>
<line x1="745.7" y1="1233.7" x2="848.1" y2="1249.3" stroke="#000" stroke-width="5"/>
<line x1="248.9" y1="1567.3" x2="351.3" y2="1551.3" stroke="#000" stroke-width="5"/>
<line x1="371.9" y1="1544.5" x2="476.7" y2="1489.0" stroke="#000" stroke-width="5"/>
<line x1="491.6" y1="1474.2" x2="605.4" y2="1259.7" stroke="#000" stroke-width="5"/>
<line x1="620.9" y1="1246.0" x2="724.5" y2="1205.8" stroke="#000" stroke-width="5"/>
<line x1="745.2" y1="1205.3" x2="848.6" y2="1240.0" stroke="#000" stroke-width="5"/>
<line x1="238.0" y1="1546.5" x2="238.0" y2="1560.5" stroke="#000" stroke-width="3"/>
<line x1="229.8" y1="1546.5" x2="246.2" y2="1546.5" stroke="#000" stroke-width="3"/>
<line x1="229.8" y1="1560.5" x2="246.2" y2="1560.5" stroke="#000" stroke-width="3"/>
<rect x="229.7" y="1545.2" width="16.6" height="16.6"/>
<line x1="362.2" y1="1521.1" x2="362.2" y2="1551.1" stroke="#000" stroke-width="3"/>
<line x1="354.0" y1="1521.1" x2="370.4" y2="1521.1" stroke="#000" stroke-width="3"/>
<line x1="354.0" y1="1551.1" x2="370.4" y2="1551.1" stroke="#000" stroke-width="3"/>
<rect x="353.9" y="1527.8" width="16.6" height="16.6"/>
<line x1="486.4" y1="1479.6" x2="486.4" y2="1507.6" stroke="#000" stroke-width="3"/>
<line x1="478.2" y1="1479.6" x2="494.6" y2="1479.6" stroke="#000" stroke-width="3"/>
<line x1="478.2" y1="1507.6" x2="494.6" y2="1507.6" stroke="#000" stroke-width="3"/>
<rect x="478.1" y="1485.3" width="16.6" height="16.6"/>
<line x1="610.6" y1="1368.0" x2="610.6" y2="1388.0" stroke="#000" stroke-width="3"/>
<line x1="602.4" y1="1368.0" x2="618.8" y2="1368.0" stroke="#000" stroke-width="3"/>
<line x1="602.4" y1="1388.0" x2="618.8" y2="1388.0" stroke="#000" stroke-width="3"/>
<rect x="602.3" y="1369.7" width="16.6" height="16.6"/>
<line x1="734.8" y1="1347.0" x2="734.8" y2="1369.0" stroke="#000" stroke-width="3"/>
<line x1="726.6" y1="1347.0" x2="743.0" y2="1347.0" stroke="#000" stroke-width="3"/>
<line x1="726.6" y1="1369.0" x2="743.0" y2="1369.0" stroke="#000" stroke-width="3"/>
<rect x="726.5" y="1349.7" width="16.6" height="16.6"/>
<line x1="859.0" y1="1353.5" x2="859.0" y2="1390.5" stroke="#000" stroke-width="3"/>
<line x1="850.8" y1="1353.5" x2="867.2" y2="1353.5" stroke="#000" stroke-width="3"/>
<line x1="850.8" y1="1390.5" x2="867.2" y2="1390.5" stroke="#000" stroke-width="3"/>
<rect x="850.7" y="1363.7" width="16.6" height="16.6"/>
<line x1="238.0" y1="1555.1" x2="238.0" y2="1571.1" stroke="#000" stroke-width="3"/>
<line x1="229.8" y1="1555.1" x2="246.2" y2="1555.1" stroke="#000" stroke-width="3"/>
<line x1="229.8" y1="1571.1" x2="246.2" y2="1571.1" stroke="#000" stroke-width="3"/>
<circle cx="238.0" cy="1563.1" r="9.0"/>
<line x1="362.2" y1="1537.7" x2="362.2" y2="1557.7" stroke="#000" stroke-width="3"/>
<line x1="354.0" y1="1537.7" x2="370.4" y2="1537.7" stroke="#000" stroke-width="3"/>
<line x1="354.0" y1="1557.7" x2="370.4" y2="1557.7" stroke="#000" stroke-width="3"/>
<circle cx="362.2" cy="1547.7" r="9.0"/>
<line x1="486.4" y1="1473.8" x2="486.4" y2="1497.8" stroke="#000" stroke-width="3"/>
<line x1="478.2" y1="1473.8" x2="494.6" y2="1473.8" stroke="#000" stroke-width="3"/>
<line x1="478.2" y1="1497.8" x2="494.6" y2="1497.8" stroke="#000" stroke-width="3"/>
<circle cx="486.4" cy="1485.8" r="9.0"/>
<line x1="610.6" y1="1340.3" x2="610.6" y2="1368.3" stroke="#000" stroke-width="3"/>
<line x1="602.4" y1="1340.3" x2="618.8" y2="1340.3" stroke="#000" stroke-width="3"/>
<line x1="602.4" y1="1368.3" x2="618.8" y2="1368.3" stroke="#000" stroke-width="3"/>
<circle cx="610.6" cy="1354.3" r="9.0"/>
<line x1="734.8" y1="1315.5" x2="734.8" y2="1342.5" stroke="#000" stroke-width="3"/>
<line x1="726.6" y1="1315.5" x2="743.0" y2="1315.5" stroke="#000" stroke-width="3"/>
<line x1="726.6" y1="1342.5" x2="743.0" y2="1342.5" stroke="#000" stroke-width="3"/>
<circle cx="734.8" cy="1329.0" r="9.0"/>
<line x1="859.0" y1="1326.8" x2="859.0" y2="1352.8" stroke="#000" stroke-width="3"/>
<line x1="850.8" y1="1326.8" x2="867.2" y2="1326.8" stroke="#000" stroke-width="3"/>
<line x1="850.8" y1="1352.8" x2="867.2" y2="1352.8" stroke="#000" stroke-width="3"/>
<circle cx="859.0" cy="1339.8" r="9.0"/>
<line x1="238.0" y1="1559.0" x2="238.0" y2="1575.0" stroke="#000" stroke-width="3"/>
<line x1="229.8" y1="1559.0" x2="246.2" y2="1559.0" stroke="#000" stroke-width="3"/>
<line x1="229.8" y1="1575.0" x2="246.2" y2="1575.0" stroke="#000" stroke-width="3"/>
<path d="M238.0,1556.5 L248.5,1575.5 L227.5,1575.5 Z"/>
<line x1="362.2" y1="1533.8" x2="362.2" y2="1553.8" stroke="#000" stroke-width="3"/>
<line x1="354.0" y1="1533.8" x2="370.4" y2="1533.8" stroke="#000" stroke-width="3"/>
<line x1="354.0" y1="1553.8" x2="370.4" y2="1553.8" stroke="#000" stroke-width="3"/>
<path d="M362.2,1533.3 L372.7,1552.3 L351.7,1552.3 Z"/>
<line x1="486.4" y1="1477.7" x2="486.4" y2="1501.7" stroke="#000" stroke-width="3"/>
<line x1="478.2" y1="1477.7" x2="494.6" y2="1477.7" stroke="#000" stroke-width="3"/>
<line x1="478.2" y1="1501.7" x2="494.6" y2="1501.7" stroke="#000" stroke-width="3"/>
<path d="M486.4,1479.2 L496.9,1498.2 L475.9,1498.2 Z"/>
<line x1="610.6" y1="1310.5" x2="610.6" y2="1336.5" stroke="#000" stroke-width="3"/>
<line x1="602.4" y1="1310.5" x2="618.8" y2="1310.5" stroke="#000" stroke-width="3"/>
<line x1="602.4" y1="1336.5" x2="618.8" y2="1336.5" stroke="#000" stroke-width="3"/>
<path d="M610.6,1313.0 L621.1,1332.0 L600.1,1332.0 Z"/>
<line x1="734.8" y1="1218.5" x2="734.8" y2="1245.5" stroke="#000" stroke-width="3"/>
<line x1="726.6" y1="1218.5" x2="743.0" y2="1218.5" stroke="#000" stroke-width="3"/>
<line x1="726.6" y1="1245.5" x2="743.0" y2="1245.5" stroke="#000" stroke-width="3"/>
<path d="M734.8,1221.5 L745.3,1240.5 L724.3,1240.5 Z"/>
<line x1="859.0" y1="1236.5" x2="859.0" y2="1265.5" stroke="#000" stroke-width="3"/>
<line x1="850.8" y1="1236.5" x2="867.2" y2="1236.5" stroke="#000" stroke-width="3"/>
<line x1="850.8" y1="1265.5" x2="867.2" y2="1265.5" stroke="#000" stroke-width="3"/>
<path d="M859.0,1240.5 L869.5,1259.5 L848.5,1259.5 Z"/>
<line x1="238.0" y1="1560.9" x2="238.0" y2="1576.9" stroke="#000" stroke-width="3"/>
<line x1="229.8" y1="1560.9" x2="246.2" y2="1560.9" stroke="#000" stroke-width="3"/>
<line x1="229.8" y1="1576.9" x2="246.2" y2="1576.9" stroke="#000" stroke-width="3"/>
<path d="M238.0,1557.6 L248.8,1568.9 L238.0,1580.2 L227.2,1568.9 Z"/>
<line x1="362.2" y1="1540.6" x2="362.2" y2="1558.6" stroke="#000" stroke-width="3"/>
<line x1="354.0" y1="1540.6" x2="370.4" y2="1540.6" stroke="#000" stroke-width="3"/>
<line x1="354.0" y1="1558.6" x2="370.4" y2="1558.6" stroke="#000" stroke-width="3"/>
<path d="M362.2,1538.3 L373.0,1549.6 L362.2,1560.9 L351.4,1549.6 Z"/>
<line x1="486.4" y1="1471.9" x2="486.4" y2="1495.9" stroke="#000" stroke-width="3"/>
<line x1="478.2" y1="1471.9" x2="494.6" y2="1471.9" stroke="#000" stroke-width="3"/>
<line x1="478.2" y1="1495.9" x2="494.6" y2="1495.9" stroke="#000" stroke-width="3"/>
<path d="M486.4,1472.6 L497.2,1483.9 L486.4,1495.2 L475.6,1483.9 Z"/>
<line x1="610.6" y1="1229.0" x2="610.6" y2="1271.0" stroke="#000" stroke-width="3"/>
<line x1="602.4" y1="1229.0" x2="618.8" y2="1229.0" stroke="#000" stroke-width="3"/>
<line x1="602.4" y1="1271.0" x2="618.8" y2="1271.0" stroke="#000" stroke-width="3"/>
<path d="M610.6,1238.7 L621.4,1250.0 L610.6,1261.3 L599.8,1250.0 Z"/>
<line x1="734.8" y1="1181.8" x2="734.8" y2="1221.8" stroke="#000" stroke-width="3"/>
<line x1="726.6" y1="1181.8" x2="743.0" y2="1181.8" stroke="#000" stroke-width="3"/>
<line x1="726.6" y1="1221.8" x2="743.0" y2="1221.8" stroke="#000" stroke-width="3"/>
<path d="M734.8,1190.5 L745.6,1201.8 L734.8,1213.1 L724.0,1201.8 Z"/>
<line x1="859.0" y1="1221.5" x2="859.0" y2="1265.5" stroke="#000" stroke-width="3"/>
<line x1="850.8" y1="1221.5" x2="867.2" y2="1221.5" stroke="#000" stroke-width="3"/>
<line x1="850.8" y1="1265.5" x2="867.2" y2="1265.5" stroke="#000" stroke-width="3"/>
<path d="M859.0,1232.2 L869.8,1243.5 L859.0,1254.8 L848.2,1243.5 Z"/>
<text x="1" y="30" font-family='"Liberation Sans", sans-serif' font-weight="bold" font-size="35">A</text>
<text x="2.5" y="586" font-family='"Liberation Sans", sans-serif' font-weight="bold" font-size="34">B</text>
<text x="2.5" y="1135.5" font-family='"Liberation Sans", sans-serif' font-weight="bold" font-size="34">C</text>
<text transform="translate(79.6,429) rotate(-90)" font-family='"Liberation Serif", serif' font-weight="bold" font-size="43" textLength="163.5" lengthAdjust="spacingAndGlyphs">Biomass</text>
<text transform="translate(79.6,255.6) rotate(-90)" font-family='"Liberation Serif", serif' font-weight="bold" font-size="43" textLength="90.6" lengthAdjust="spacingAndGlyphs">(g/L)</text>
<text transform="translate(78,1037) rotate(-90)" font-family='"Liberation Serif", serif' font-weight="bold" font-size="43" textLength="269" lengthAdjust="spacingAndGlyphs">Phycoerythrin</text>
<text transform="translate(78,732) rotate(-90)" font-family='"Liberation Serif", serif' font-weight="bold" font-size="43" textLength="98" lengthAdjust="spacingAndGlyphs">mg/L</text>
<text transform="translate(72.7,1642) rotate(-90)" font-family='"Liberation Serif", serif' font-weight="bold" font-size="43" textLength="494" lengthAdjust="spacingAndGlyphs">Exopolysaccharides (mg/L)</text>
<text x="436.7" y="1735" font-family='"Liberation Serif", serif' font-weight="bold" font-size="39">Time</text>
<text x="562.5" y="1734.6" font-family='"Liberation Serif", serif' font-weight="bold" font-size="37" textLength="55.5" lengthAdjust="spacingAndGlyphs">day</text>
<path transform="translate(555.6,1721.2) rotate(0)" d="M0,-15.0 Q-23.8,0 0,15.0 Q-17.4,0 0,-15.0 Z" fill="#000" stroke="#000" stroke-width="0.9"/>
<path transform="translate(628.2,1721.5) rotate(180)" d="M0,-15.3 Q-20.8,0 0,15.3 Q-14.4,0 0,-15.3 Z" fill="#000" stroke="#000" stroke-width="0.9"/>
<path transform="translate(62.8,630.7) rotate(90)" d="M0,-16.9 Q-25.6,0 0,16.9 Q-18.8,0 0,-16.9 Z" fill="#000" stroke="#000" stroke-width="0.9"/>
<path transform="translate(62.8,739.3) rotate(-90)" d="M0,-16.9 Q-27.8,0 0,16.9 Q-21.0,0 0,-16.9 Z" fill="#000" stroke="#000" stroke-width="0.9"/>
</svg>
</body></html>
